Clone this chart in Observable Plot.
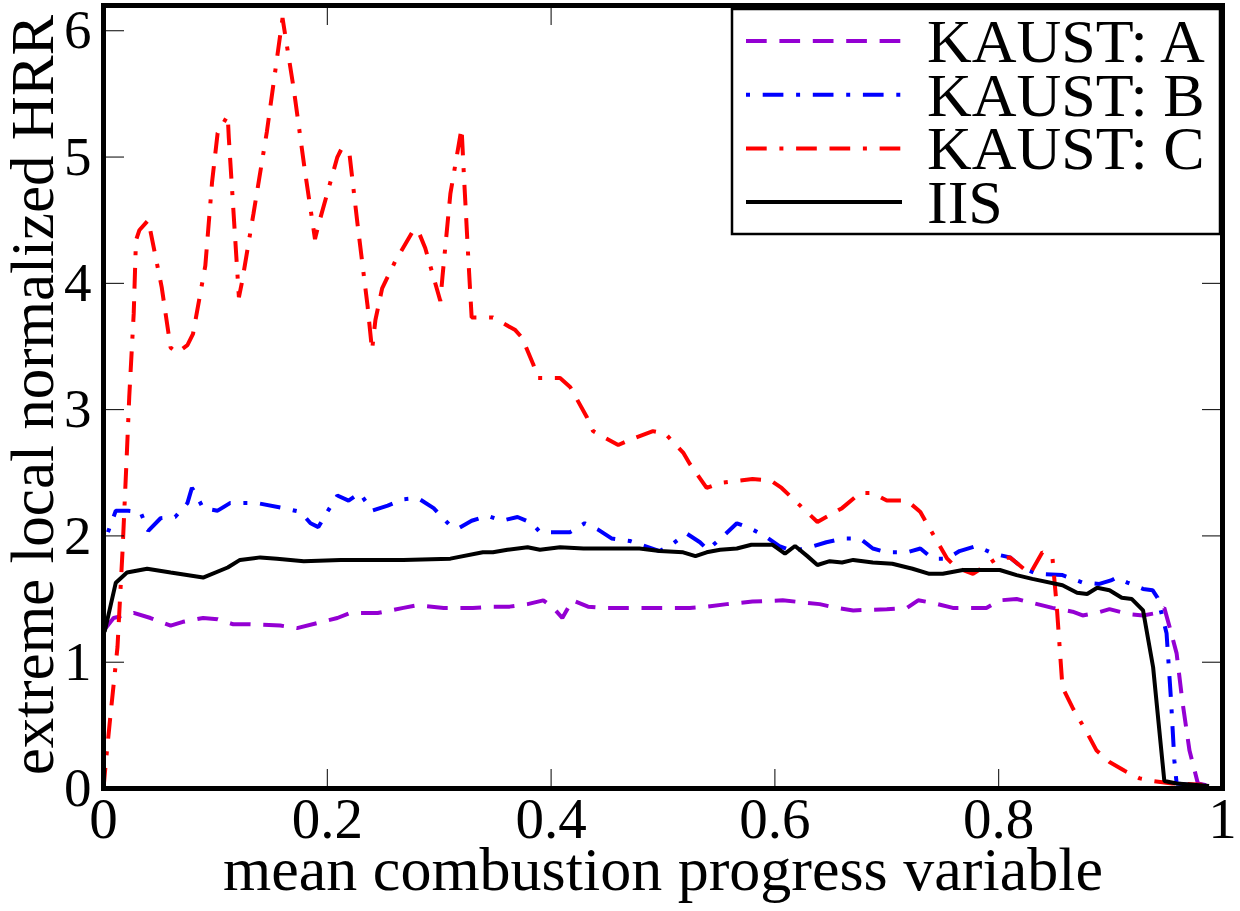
<!DOCTYPE html>
<html><head><meta charset="utf-8">
<script src="https://cdn.jsdelivr.net/npm/d3@7"></script>
<script src="https://cdn.jsdelivr.net/npm/@observablehq/plot@0.6"></script>
<style>body{margin:0;background:#fff} svg, svg text{font-family:'Liberation Serif','Times New Roman',Times,serif !important}</style>
</head><body><div id="chart"></div>
<script>
// KAUST: A
const xA = [0.002,0.009,0.027,0.042,0.060,0.071,0.089,0.102,0.116,0.131,0.158,0.173,0.191,0.209,0.2205,0.245,0.268,0.280,0.304,0.330,0.348,0.363,0.379,0.393,0.402,0.410,0.419,0.433,0.446,0.4615,0.486,0.524,0.539,0.557,0.580,0.607,0.629,0.640,0.655,0.670,0.700,0.718,0.728,0.741,0.759,0.789,0.801,0.816,0.830,0.848,0.866,0.875,0.8875,0.899,0.917,0.929,0.941,0.948,0.953,0.959,0.964,0.9705,0.978,0.988];
const yA = [1.27,1.35,1.39,1.35,1.29,1.32,1.35,1.34,1.30,1.30,1.29,1.27,1.31,1.35,1.39,1.39,1.43,1.45,1.43,1.43,1.44,1.44,1.46,1.49,1.43,1.35,1.49,1.44,1.43,1.43,1.43,1.43,1.44,1.46,1.48,1.49,1.47,1.46,1.43,1.41,1.42,1.43,1.49,1.47,1.43,1.43,1.49,1.50,1.47,1.43,1.40,1.37,1.39,1.42,1.38,1.37,1.39,1.43,1.27,1.07,0.70,0.30,0.04,0.02];
// KAUST: B
const xB = [0.004,0.011,0.022,0.033,0.040,0.051,0.064,0.075,0.079,0.082,0.089,0.102,0.113,0.1375,0.161,0.176,0.185,0.192,0.200,0.209,0.219,0.229,0.240,0.254,0.268,0.281,0.295,0.310,0.317,0.329,0.343,0.356,0.370,0.383,0.390,0.417,0.430,0.442,0.454,0.4705,0.497,0.509,0.521,0.533,0.540,0.554,0.566,0.578,0.591,0.604,0.616,0.631,0.646,0.661,0.676,0.6875,0.700,0.718,0.730,0.741,0.754,0.765,0.780,0.795,0.810,0.821,0.834,0.857,0.875,0.890,0.901,0.905,0.915,0.929,0.9375,0.942,0.950,0.954,0.957,0.959,0.979];
const yB = [2.03,2.20,2.20,2.19,2.04,2.14,2.15,2.26,2.38,2.34,2.22,2.20,2.26,2.26,2.22,2.19,2.10,2.07,2.19,2.32,2.28,2.34,2.20,2.24,2.29,2.30,2.22,2.08,2.06,2.12,2.16,2.12,2.15,2.10,2.03,2.03,2.10,2.05,1.98,1.96,1.88,1.94,2.02,1.95,1.89,2.00,2.10,2.06,2.00,1.92,1.88,1.91,1.95,1.98,1.98,1.90,1.87,1.87,1.90,1.82,1.82,1.88,1.92,1.86,1.83,1.75,1.70,1.69,1.63,1.62,1.65,1.67,1.63,1.58,1.57,1.51,1.23,0.70,0.22,0.04,0.02];
// KAUST: C
const xC = [0.000,0.002,0.006,0.0125,0.017,0.021,0.023,0.027,0.029,0.032,0.040,0.052,0.060,0.066,0.075,0.080,0.091,0.097,0.102,0.111,0.112,0.121,0.124,0.134,0.146,0.160,0.170,0.180,0.189,0.192,0.209,0.213,0.220,0.227,0.236,0.240,0.243,0.249,0.261,0.277,0.281,0.2875,0.301,0.303,0.310,0.320,0.322,0.326,0.329,0.348,0.368,0.374,0.384,0.388,0.408,0.417,0.432,0.4375,0.460,0.473,0.491,0.502,0.518,0.524,0.539,0.551,0.580,0.596,0.606,0.638,0.660,0.676,0.6875,0.700,0.718,0.730,0.737,0.754,0.762,0.777,0.798,0.810,0.828,0.839,0.848,0.852,0.857,0.866,0.879,0.8875,0.899,0.9125,0.926,0.9375,0.955,0.982];
const yC = [0.00,0.20,0.56,1.12,1.88,2.68,3.10,3.76,4.34,4.42,4.50,3.97,3.49,3.45,3.51,3.60,4.14,4.80,5.19,5.33,5.15,3.89,4.02,4.55,5.20,6.10,5.54,4.89,4.35,4.46,5.00,5.07,5.01,4.47,3.82,3.47,3.71,3.96,4.18,4.42,4.42,4.28,3.86,4.06,4.71,5.23,4.87,4.20,3.73,3.73,3.63,3.57,3.36,3.25,3.25,3.18,2.94,2.83,2.72,2.77,2.83,2.81,2.66,2.57,2.38,2.42,2.45,2.44,2.38,2.11,2.22,2.34,2.34,2.28,2.28,2.19,2.08,1.82,1.75,1.70,1.82,1.83,1.70,1.87,1.83,1.43,0.80,0.64,0.44,0.30,0.21,0.14,0.08,0.06,0.04,0.03];
// IIS
const xI = [0.001,0.011,0.021,0.039,0.060,0.089,0.111,0.122,0.140,0.155,0.179,0.212,0.268,0.310,0.339,0.348,0.361,0.379,0.390,0.408,0.429,0.468,0.479,0.497,0.518,0.529,0.539,0.551,0.566,0.579,0.598,0.609,0.618,0.629,0.638,0.649,0.660,0.670,0.6875,0.705,0.723,0.738,0.750,0.768,0.801,0.816,0.830,0.857,0.870,0.879,0.888,0.899,0.910,0.919,0.929,0.938,0.948,0.959,0.988];
const yI = [1.24,1.63,1.71,1.74,1.71,1.67,1.75,1.81,1.83,1.82,1.80,1.81,1.81,1.82,1.87,1.87,1.89,1.91,1.89,1.91,1.90,1.90,1.90,1.88,1.87,1.84,1.87,1.89,1.90,1.93,1.93,1.86,1.92,1.84,1.77,1.80,1.79,1.81,1.79,1.78,1.74,1.70,1.70,1.73,1.73,1.69,1.66,1.61,1.55,1.54,1.59,1.57,1.51,1.50,1.41,0.96,0.06,0.04,0.02];

const seriesNames = ["KAUST: A","KAUST: B","KAUST: C","IIS"];
const seriesColors = ["#9400d3","#0000ff","#ff0000","#000000"];
const seriesDash = ["20.7,12.7","4,12.7,20.7,12.7","20.7,12.7,4,12.7,20.7,12.7",null];
const xTicks = [0,0.2,0.4,0.6,0.8,1];
const yTicks = [0,1,2,3,4,5,6];
const xLabel = "mean combustion progress variable";
const yLabel = "extreme local normalized HRR";

const series = [[xA,yA],[xB,yB],[xC,yC],[xI,yI]];
const rows = (xs, ys, name) => xs.map((x, i) => ({x, y: ys[i], name}));

const lineMarks = series.map(([xs, ys], i) => Plot.line(rows(xs, ys, seriesNames[i]), {
  x: "x", y: "y", stroke: seriesColors[i], strokeWidth: 4,
  strokeDasharray: seriesDash[i] || undefined, strokeLinecap: "butt", strokeLinejoin: "miter"
}));

const fmt = d => String(d);

const plot = Plot.plot({
  width: 1240, height: 911,
  marginLeft: 103, marginRight: 18, marginTop: 5, marginBottom: 123,
  style: {fontFamily: "Liberation Serif, Times New Roman, serif", color: "black", background: "white"},
  x: {domain: [0, 1]},
  y: {domain: [0, 6.2]},
  marks: [
    ...lineMarks,
    Plot.axisX(xTicks, {anchor: "bottom", tickSize: 0, tickPadding: 9, fontSize: 57, label: null, tickFormat: fmt}),
    Plot.axisX(xTicks, {anchor: "top", frameAnchor: "bottom", text: null, tickSize: 20, label: null}),
    Plot.axisX(xTicks, {anchor: "bottom", frameAnchor: "top", text: null, tickSize: 20, label: null}),
    Plot.axisY(yTicks, {anchor: "left", tickSize: 0, tickPadding: 12, fontSize: 55, label: null, tickFormat: fmt}),
    Plot.axisY(yTicks, {anchor: "right", frameAnchor: "left", text: null, tickSize: 20, label: null}),
    Plot.axisY(yTicks, {anchor: "left", frameAnchor: "right", text: null, tickSize: 20, label: null}),
    Plot.text([xLabel], {frameAnchor: "bottom", dy: 82, fontSize: 62, textAnchor: "middle", lineAnchor: "middle", text: d => d}),
    Plot.text([yLabel], {frameAnchor: "left", rotate: -90, dx: -70, dy: -2, fontSize: 61, textAnchor: "middle", lineAnchor: "middle", text: d => d}),
    Plot.frame({stroke: "black", strokeWidth: 5})
  ]
});
document.getElementById("chart").appendChild(plot);

// legend
const svg = d3.select(plot);
const lg = svg.append("g").attr("class", "legend");
lg.append("rect").attr("x", 732).attr("y", 9).attr("width", 488).attr("height", 225)
  .attr("fill", "white").attr("stroke", "black").attr("stroke-width", 2.5);
seriesNames.forEach((n, i) => {
  const y = 41 + i * 53.7;
  const ln = lg.append("line").attr("x1", 746).attr("x2", 902).attr("y1", y).attr("y2", y)
    .attr("stroke", seriesColors[i]).attr("stroke-width", 4);
  if (seriesDash[i]) ln.attr("stroke-dasharray", seriesDash[i]);
  lg.append("text").attr("x", 927).attr("y", y + 21).attr("font-size", 62)
    .attr("text-anchor", "start").attr("fill", "black").text(n);
});
svg.select('[aria-label="frame"]').raise();
</script>
</body></html>
